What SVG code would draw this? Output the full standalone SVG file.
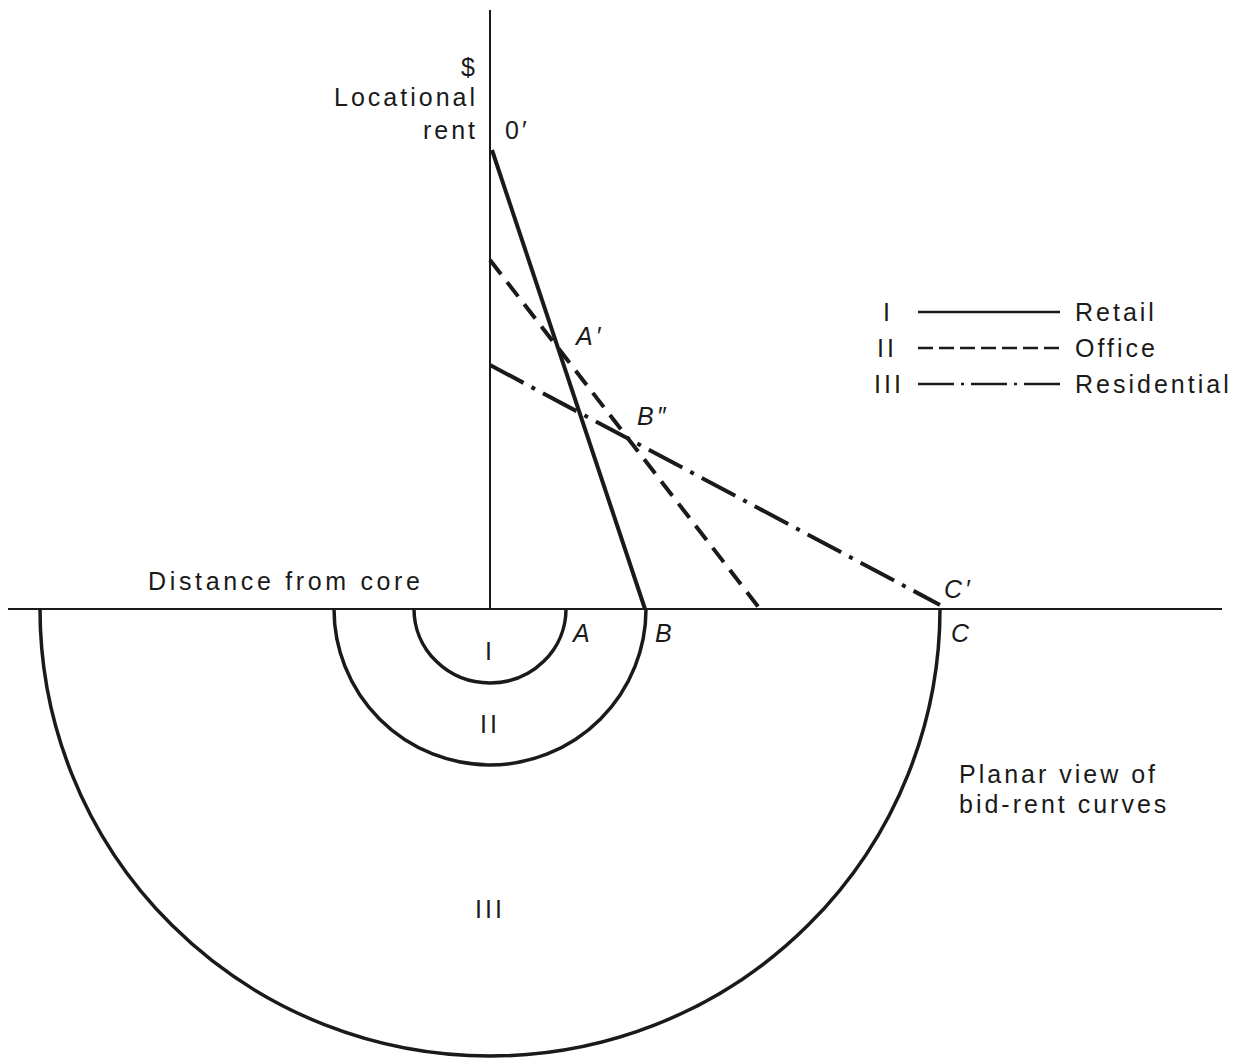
<svg xmlns="http://www.w3.org/2000/svg" width="1237" height="1058" viewBox="0 0 1237 1058">
<style>
text{font-family:"Liberation Sans",Arial,sans-serif;font-size:25px;fill:#1a1a1a;letter-spacing:3px}
.it{font-style:italic}
.ax{stroke:#1a1a1a;stroke-width:2;fill:none}
.ring{stroke:#1a1a1a;stroke-width:3.5;fill:none}
.ret{stroke:#1a1a1a;stroke-width:4;fill:none}
.off{stroke:#1a1a1a;stroke-width:4;fill:none;stroke-dasharray:18 10}
.res{stroke:#1a1a1a;stroke-width:4;fill:none;stroke-dasharray:38 9 4 9}
.lret{stroke:#1a1a1a;stroke-width:2.5;fill:none}
.loff{stroke:#1a1a1a;stroke-width:2.5;fill:none;stroke-dasharray:15 6}
.lres{stroke:#1a1a1a;stroke-width:2.5;fill:none;stroke-dasharray:36 7 3 7}
</style>
<rect width="1237" height="1058" fill="#fff"/>
<g id="axes">
<line class="ax" x1="490" y1="10" x2="490" y2="609"/>
<line class="ax" x1="8" y1="609" x2="1222" y2="609"/>
</g>
<g id="rings">
<path id="ring-I" class="ring" d="M414 609 A76 74 0 0 0 566 609"/>
<path id="ring-II" class="ring" d="M334 609 A156 156 0 0 0 646 609"/>
<path id="ring-III" class="ring" d="M40 609 A450 447 0 0 0 940 609"/>
</g>
<g id="connectors">
<line class="ret" x1="492" y1="150" x2="645" y2="609"/>
<line class="off" x1="490" y1="260" x2="760" y2="609"/>
<line class="res" x1="490" y1="365" x2="940" y2="605"/>
</g>
<g id="legend">
<text x="883" y="321">I</text>
<text x="877" y="357">II</text>
<text x="874" y="393">III</text>
<line class="lret" x1="918" y1="312" x2="1060" y2="312"/>
<line class="loff" x1="918" y1="348" x2="1060" y2="348"/>
<line class="lres" x1="918" y1="384" x2="1060" y2="384"/>
<text x="1075" y="321">Retail</text>
<text x="1075" y="357">Office</text>
<text x="1075" y="393">Residential</text>
</g>
<g id="labels">
<text x="478" y="76" text-anchor="end">$</text>
<text x="478" y="106" text-anchor="end">Locational</text>
<text x="478" y="139" text-anchor="end">rent</text>
<text x="505" y="139">0′</text>
<text class="it" x="576" y="345">A′</text>
<text class="it" x="637" y="425">B″</text>
<text class="it" x="944" y="598">C′</text>
<text class="it" x="951" y="642">C</text>
<text class="it" x="573" y="642">A</text>
<text class="it" x="655" y="642">B</text>
<text x="148" y="590" textLength="275" lengthAdjust="spacing">Distance from core</text>
<text x="490" y="660" text-anchor="middle">I</text>
<text x="490" y="733" text-anchor="middle">II</text>
<text x="490" y="918" text-anchor="middle">III</text>
<text x="959" y="783">Planar view of</text>
<text x="959" y="813">bid-rent curves</text>
</g>
</svg>
